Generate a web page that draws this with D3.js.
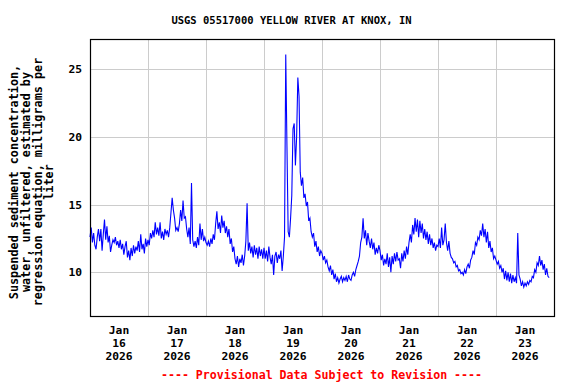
<!DOCTYPE html>
<html>
<head>
<meta charset="utf-8">
<script src="https://cdn.jsdelivr.net/npm/d3@7"></script>
<style>
  html, body { margin: 0; padding: 0; background: #fff; }
  svg { display: block; }
  text { font-family: "DejaVu Sans Mono", "Liberation Mono", monospace; font-weight: bold; }
</style>
</head>
<body>
<svg id="chart" width="576" height="384"></svg>
<script>
// ---- Data (30-minute values, mg/L) ----
const startDate = Date.UTC(2026, 0, 16);
const stepMinutes = 30;
const jan16 = [12.6,13.3,12.2,12.9,12.0,11.7,12.6,13.2,12.3,13.2,11.6,12.8,13.9,12.4,13.4,12.2,12.7,11.5,12.0,12.4,12.2,12.6,12.0,12.3,
               11.8,12.4,11.7,12.1,11.3,11.9,12.3,11.1,11.6,10.9,11.8,11.2,12.0,11.4,11.9,11.6,12.3,11.5,12.8,11.7,12.1,11.4,12.5,11.9];
const jan17 = [12.4,12.0,12.9,12.5,13.1,12.6,13.7,12.8,13.3,12.7,13.7,12.5,13.0,12.4,13.2,12.8,13.1,12.6,13.3,14.4,15.5,14.6,14.0,13.1,
               13.3,13.0,13.6,14.6,13.8,15.3,14.0,14.1,13.2,12.6,13.3,12.1,16.6,12.4,11.9,12.3,11.8,12.6,12.0,13.6,12.4,13.2,12.3,12.6];
const jan18 = [12.2,12.0,12.3,11.9,12.5,12.1,12.8,12.4,13.6,14.5,13.2,13.7,12.9,14.2,13.3,13.8,12.9,13.4,12.6,13.2,12.1,12.5,11.5,11.9,
               11.0,10.6,11.2,10.4,11.0,10.7,11.3,10.5,11.2,12.3,15.1,11.6,12.2,11.4,11.9,11.1,12.0,11.3,11.8,11.0,11.9,11.2,11.7,11.0];
const jan19 = [11.8,11.0,11.6,10.8,11.9,11.1,10.6,11.3,9.8,11.2,11.5,10.7,11.3,11.0,11.6,10.1,11.2,12.6,26.1,19.3,13.0,12.6,14.0,15.7,
               20.6,21.0,17.9,20.0,24.4,23.0,17.4,16.4,17.0,15.5,15.8,14.9,15.2,13.8,14.0,13.0,12.6,12.9,11.9,12.3,11.5,11.9,11.2,11.6];
const jan20 = [11.4,10.9,11.2,10.7,10.9,10.4,10.1,10.5,9.8,10.2,9.5,9.9,9.3,9.6,9.2,9.5,9.7,9.3,9.6,9.4,9.7,9.3,9.8,9.5,
               9.4,9.8,10.0,9.7,10.2,10.5,10.8,11.2,12.2,12.6,14.0,12.5,13.1,12.0,12.9,12.3,11.8,12.5,11.7,12.2,11.3,11.8,11.4,12.0];
const jan21 = [11.6,10.9,11.3,10.5,11.0,10.6,11.4,10.4,11.1,10.0,11.2,10.6,11.4,10.8,11.5,10.9,11.0,10.3,11.4,10.8,11.6,11.0,11.9,11.3,
               12.2,12.8,12.2,13.5,12.8,14.0,13.0,13.9,12.6,13.8,12.9,13.6,12.5,13.2,12.4,13.0,12.1,12.8,12.0,12.5,11.8,12.2,11.6,12.0];
const jan22 = [11.9,12.5,11.8,13.3,12.0,12.4,13.6,12.2,11.6,12.3,11.4,11.1,11.0,10.7,10.8,10.4,10.5,10.1,10.2,9.9,10.0,9.8,10.2,9.9,
               10.4,10.6,10.3,10.9,11.1,11.6,11.3,12.2,12.0,12.6,12.4,13.1,12.7,13.6,12.6,13.2,12.2,13.0,11.8,12.3,11.5,11.8,11.0,11.2];
const jan23 = [10.9,10.6,10.8,10.3,10.5,10.0,10.3,9.5,10.1,9.4,10.0,9.3,9.9,9.2,9.8,9.3,9.6,9.2,12.9,9.8,9.5,9.0,9.3,8.9,
               9.2,9.0,9.3,9.1,9.4,9.3,9.7,9.6,10.2,10.0,10.7,10.5,11.2,10.5,10.9,10.2,10.6,9.8,10.3,9.7,9.6];
const values = [].concat(jan16, jan17, jan18, jan19, jan20, jan21, jan22, jan23);

const yTicks = [10, 15, 20, 25];
const tickMonth = ["Jan","Jan","Jan","Jan","Jan","Jan","Jan","Jan"];
const tickDay = ["16","17","18","19","20","21","22","23"];
const tickYear = ["2026","2026","2026","2026","2026","2026","2026","2026"];
const titleText = "USGS 05517000 YELLOW RIVER AT KNOX, IN";
const yLabelLines = ["Suspended sediment concentration,", "water, unfiltered, estimated by", "regression equation, milligrams per", "liter"];
const footerText = "---- Provisional Data Subject to Revision ----";

// ---- Layout ----
const svg = d3.select("#chart");
const L = 90, R = 554, T = 39, B = 316;
const x = d3.scaleUtc().domain([new Date(startDate), new Date(startDate + 8 * 86400e3)]).range([L, R]);
const y = d3.scaleLinear().domain([6.77, 27.24]).range([B, T]);

const data = values.map((v, i) => ({ t: new Date(startDate + i * stepMinutes * 60e3), v }));

// gridlines
const dayTicks = d3.range(1, 8).map(d => new Date(startDate + d * 86400e3));
svg.append("g").selectAll("line").data(dayTicks).join("line")
  .attr("x1", d => Math.round(x(d)) + 0.5).attr("x2", d => Math.round(x(d)) + 0.5)
  .attr("y1", T).attr("y2", B).attr("stroke", "#cccccc").attr("stroke-width", 1);
svg.append("g").selectAll("line").data(yTicks).join("line")
  .attr("x1", L).attr("x2", R)
  .attr("y1", d => Math.round(y(d)) + 0.5).attr("y2", d => Math.round(y(d)) + 0.5)
  .attr("stroke", "#cccccc").attr("stroke-width", 1);

// data line
svg.append("path").datum(data)
  .attr("fill", "none").attr("stroke", "#0000ff").attr("stroke-width", 1.1)
  .attr("d", d3.line().x(d => x(d.t)).y(d => y(d.v)));

// frame
svg.append("rect").attr("x", L + 0.5).attr("y", T + 0.5).attr("width", R - L).attr("height", B - T)
  .attr("fill", "none").attr("stroke", "#000").attr("stroke-width", 1.2);

// y tick labels
svg.append("g").selectAll("text").data(yTicks).join("text")
  .attr("x", 82).attr("y", d => y(d)).attr("dy", "0.35em")
  .attr("text-anchor", "end").attr("font-size", 11.3).attr("fill", "#000")
  .text(d => d);

// x tick labels at noon
const noon = d3.range(0, 8).map(d => new Date(startDate + d * 86400e3 + 43200e3));
const xl = svg.append("g");
noon.forEach((d, i) => {
  const cx = x(d);
  [tickMonth[i], tickDay[i], tickYear[i]].forEach((s, j) => {
    xl.append("text").attr("x", cx).attr("y", 334 + j * 13)
      .attr("text-anchor", "middle").attr("font-size", 11.3).attr("fill", "#000").text(s);
  });
});

// title
svg.append("text").attr("x", 291.5).attr("y", 24).attr("text-anchor", "middle")
  .attr("font-size", 10.5).attr("fill", "#000").text(titleText);

// y label
const yl = svg.append("g").attr("transform", "translate(0,182) rotate(-90)");
yLabelLines.forEach((s, j) => {
  yl.append("text").attr("x", 0).attr("y", 18 + j * 11.8)
    .attr("text-anchor", "middle").attr("font-size", 11.8).attr("fill", "#000").text(s);
});

// footer
svg.append("text").attr("x", 321.5).attr("y", 379).attr("text-anchor", "middle")
  .attr("font-size", 11.6).attr("fill", "#ff0000").text(footerText);
</script>
</body>
</html>
